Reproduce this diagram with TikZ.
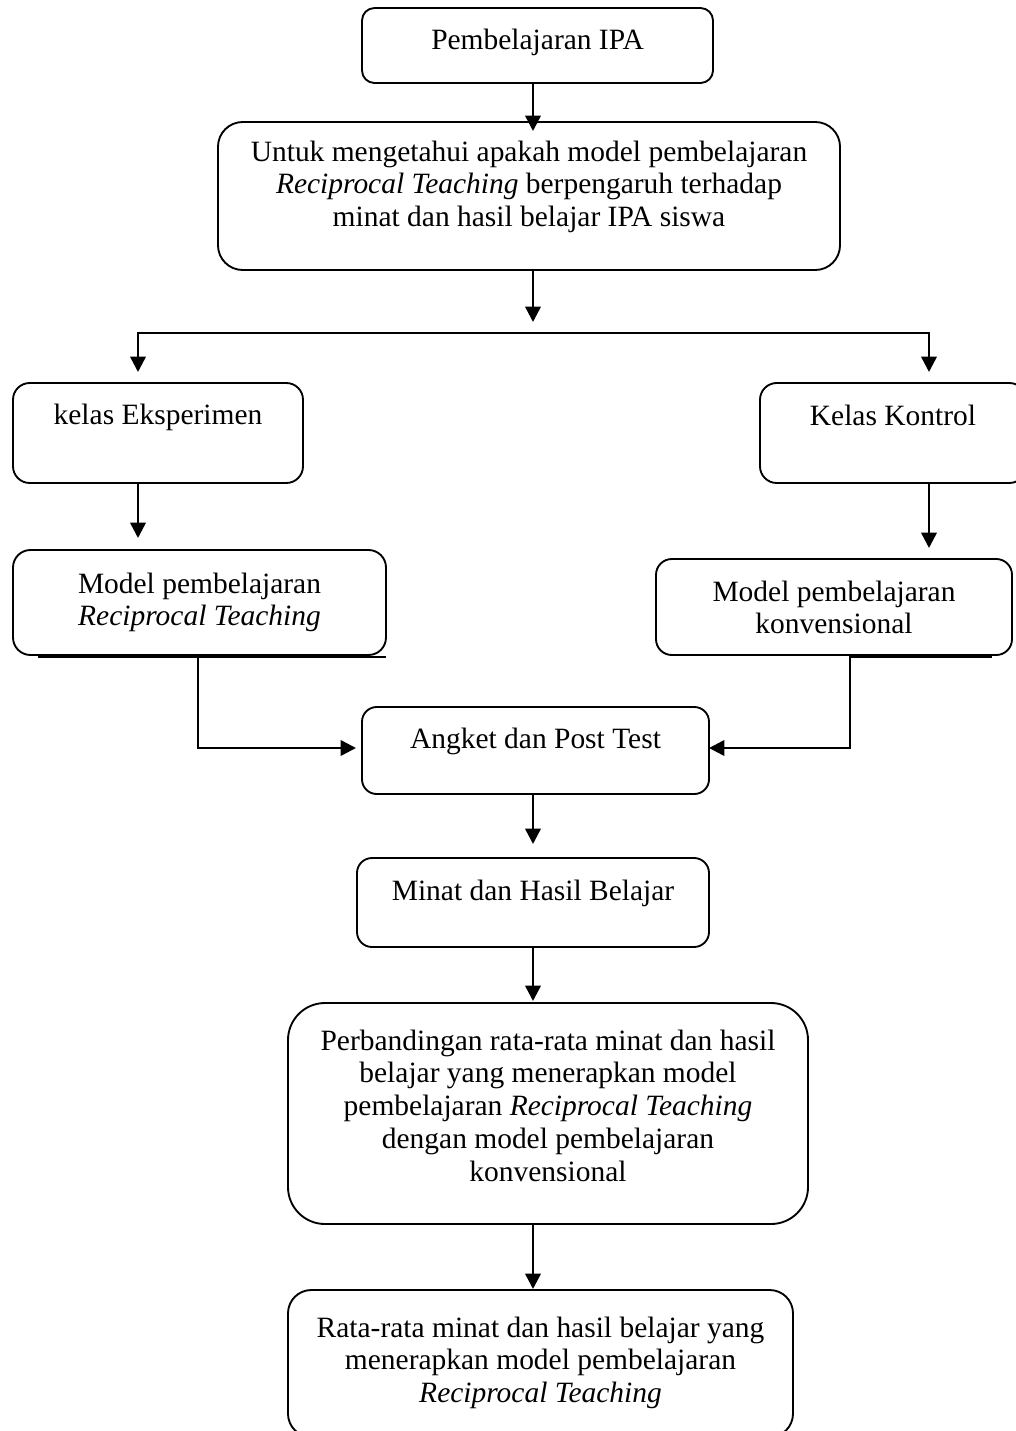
\documentclass[tikz,border=0pt]{standalone}
\usepackage{fontspec}
\setmainfont{Liberation Serif}
\usetikzlibrary{arrows.meta}
\newdimen\pu \pu=0.75pt
\newcommand{\bxt}[4]{\parbox[c][#2\pu][t]{#1\pu}{\centering\rule{0pt}{#3\pu}#4\par}}
\tikzset{
  box/.style={draw, line width=1.4pt, inner sep=0pt, outer sep=0pt, font=\fontsize{22.1pt}{24.6pt}\selectfont},
  arr/.style={line width=1.9pt, -{Triangle[width=11.5pt,length=11.5pt]}},
  arrr/.style={line width=1.9pt, {Triangle[width=11.5pt,length=11.5pt]}-{Triangle[width=11.5pt,length=11.5pt]}},
  extra/.style={line width=1.5pt}
}
\begin{document}
\begin{tikzpicture}[x=0.75pt, y=-0.75pt]
\useasboundingbox (0,0) rectangle (1016,1431);
% boxes
\node[box, rounded corners=12.5\pu] (b1) at (537.5,45.5) {\bxt{351}{75}{41}{Pembelajaran IPA}};
\node[box, rounded corners=24.7\pu] (b2) at (529,196) {\bxt{622}{148}{39}{Untuk mengetahui apakah model pembelajaran\\ \textit{Reciprocal Teaching} berpengaruh terhadap\\ minat dan hasil belajar IPA siswa}};
\node[box, rounded corners=16.7\pu] (b3) at (158,433) {\bxt{290}{100}{41}{kelas Eksperimen}};
\node[box, rounded corners=16.7\pu] (b4) at (893,433) {\bxt{266}{100}{42}{Kelas Kontrol}};
\node[box, rounded corners=17.5\pu] (b5) at (199.5,602.5) {\bxt{373}{105}{43}{Model pembelajaran\\ \textit{Reciprocal Teaching}}};
\node[box, rounded corners=15.8\pu] (b6) at (834,607) {\bxt{356}{96}{42}{Model pembelajaran\\ konvensional}};
\node[box, rounded corners=14.7\pu] (b7) at (535.5,750.5) {\bxt{347}{87}{41}{Angket dan Post Test}};
\node[box, rounded corners=15\pu] (b8) at (533,902.5) {\bxt{352}{89}{42}{Minat dan Hasil Belajar}};
\node[box, rounded corners=37\pu] (b9) at (548,1113.5) {\bxt{520}{221}{47}{Perbandingan rata-rata minat dan hasil\\ belajar yang menerapkan model\\ pembelajaran \textit{Reciprocal Teaching}\\ dengan model pembelajaran\\ konvensional}};
\node[box, rounded corners=23.3\pu] (b10) at (540.5,1363.5) {\bxt{505}{147}{47}{Rata-rata minat dan hasil belajar yang\\ menerapkan model pembelajaran\\ \textit{Reciprocal Teaching}}};
% helper coordinates
\coordinate (ax) at (533,0);
\coordinate (s0) at (533,322);
\coordinate (sl) at (138,333);
\coordinate (sr) at (929,333);
\coordinate (tl) at (138,372);
\coordinate (tr) at (929,372);
\coordinate (t5) at (138,538);
\coordinate (t6) at (929,548);
\coordinate (k5) at (198,748);
\coordinate (e5) at (356,748);
\coordinate (k6) at (850,748);
\coordinate (t8) at (533,844);
\coordinate (x5a) at (38,656.5);
\coordinate (x5b) at (386,656.5);
\coordinate (x6a) at (850,656.5);
\coordinate (x6b) at (992,656.5);
% connectors
\draw[arr, shorten >=-9\pu] (b1.south -| ax) -- (b2.north -| ax);
\draw[arr] (b2.south -| ax) -- (s0);
\draw[arrr] (tl) -- (sl) -- (sr) -- (tr);
\draw[arr] (b3.south -| t5) -- (t5);
\draw[arr] (b4.south -| t6) -- (t6);
\draw[arr] (b5.south -| k5) -- (k5) -- (e5);
\draw[arr] (b6.south -| k6) -- (k6) -- (b7.east |- k6);
\draw[arr] (b7.south -| ax) -- (t8);
\draw[arr, shorten >=2\pu] (b8.south -| ax) -- (b9.north -| ax);
\draw[arr, shorten >=1\pu] (b9.south -| ax) -- (b10.north -| ax);
% stray bottom lines
\draw[extra] (x5a) -- (x5b);
\draw[extra] (x6a) -- (x6b);
\end{tikzpicture}
\end{document}
